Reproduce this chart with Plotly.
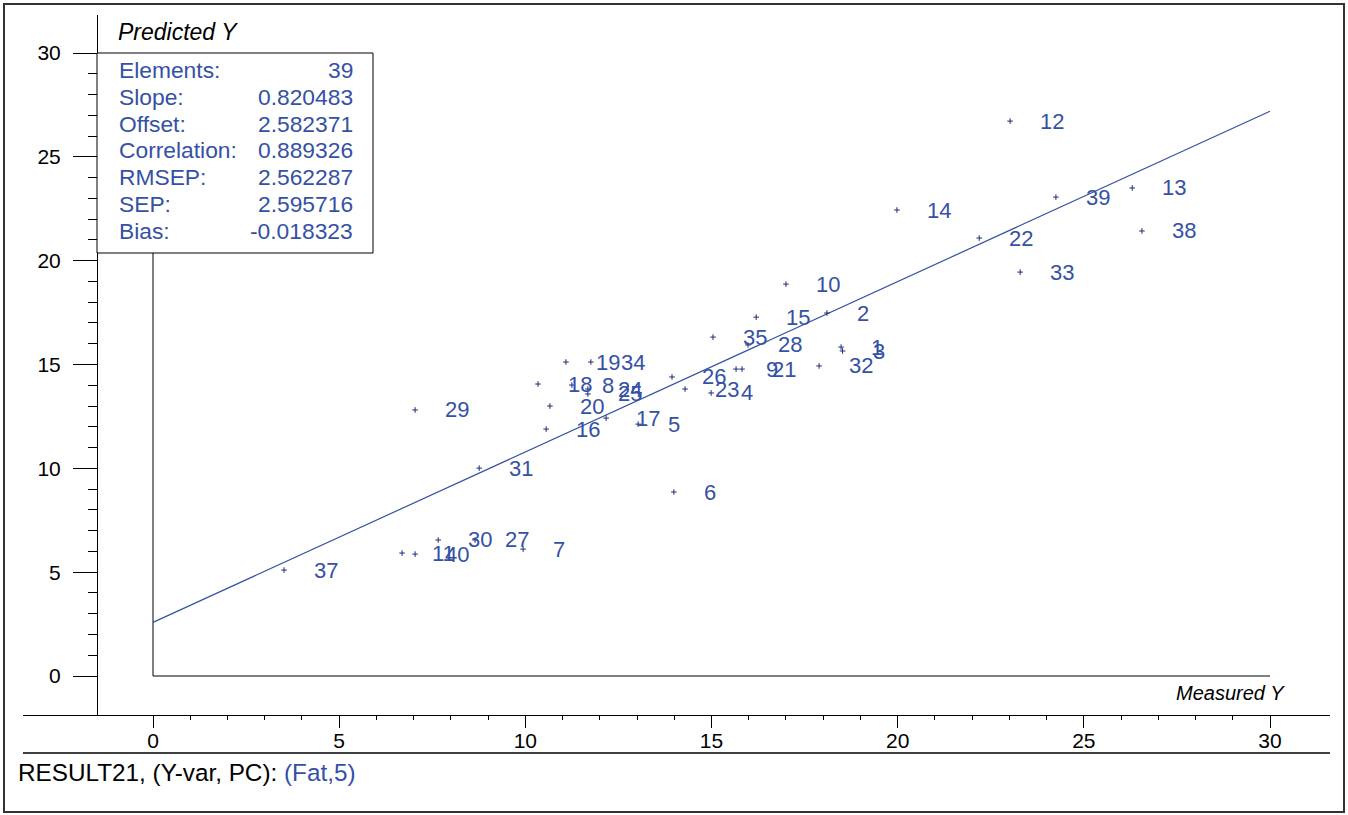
import plotly.graph_objects as go

# ---------------- data ----------------
sample_ids = [1, 2, 3, 4, 5, 6, 7, 8, 9, 10, 11, 12, 13, 14, 15, 16, 17, 18, 19, 20,
              21, 22, 23, 24, 25, 26, 27, 28, 29, 30, 31, 32, 33, 34, 35, 37, 38, 39, 40]
measured_y = [18.48, 18.10, 18.52, 14.99, 13.03, 13.99, 9.94, 11.25, 15.66, 17.00,
              6.69, 23.02, 26.30, 19.98, 16.20, 10.56, 12.17, 10.34, 11.09, 10.66,
              15.82, 22.19, 14.29, 11.68, 11.68, 13.94, 8.65, 15.98, 7.04, 7.66,
              8.76, 17.89, 23.29, 11.76, 15.04, 3.52, 26.56, 24.25, 7.04]
predicted_y = [15.84, 17.48, 15.65, 13.63, 12.13, 8.86, 6.11, 14.01, 14.78, 18.87,
               5.92, 26.72, 23.50, 22.44, 17.28, 11.89, 12.42, 14.06, 15.12, 13.00,
               14.78, 21.09, 13.82, 13.82, 13.58, 14.40, 6.55, 15.94, 12.81, 6.55,
               10.01, 14.93, 19.45, 15.12, 16.32, 5.10, 21.43, 23.06, 5.87]

stat_names = ["Elements:", "Slope:", "Offset:", "Correlation:", "RMSEP:", "SEP:", "Bias:"]
stat_values = ["39", "0.820483", "2.582371", "0.889326", "2.562287", "2.595716", "-0.018323"]
SLOPE = 0.820483
OFFSET = 2.582371

major_ticks = [0, 5, 10, 15, 20, 25, 30]
minor_ticks = [v for v in range(0, 31) if v % 5 != 0]
FRAME_MIN, FRAME_MAX = 0, 30

# ---------------- styling / geometry ----------------
W, H = 1348, 815
ML, MR, MT, MB = 23, 18, 15, 100
PW, PH = W - ML - MR, H - MT - MB
BLUE = "#3451a6"
DOT = "#1c2c7c"
FONT = "Arial, Liberation Sans, sans-serif"


def px(xp):
    return (xp - ML) / PW


def py(yp):
    return (H - MB - yp) / PH


fig = go.Figure()

# inner L frame
fig.add_trace(go.Scatter(x=[FRAME_MIN, FRAME_MIN, FRAME_MAX], y=[FRAME_MAX, FRAME_MIN, FRAME_MIN],
                         mode="lines", line=dict(color="black", width=1),
                         hoverinfo="skip", showlegend=False))

# regression line
fx = [FRAME_MIN, FRAME_MAX]
fig.add_trace(go.Scatter(x=fx, y=[SLOPE * v + OFFSET for v in fx], mode="lines",
                         line=dict(color=BLUE, width=1.2), hoverinfo="skip", showlegend=False))

# points
fig.add_trace(go.Scatter(x=measured_y, y=predicted_y, mode="markers",
                         marker=dict(symbol="cross-thin", size=4,
                                     line=dict(color=DOT, width=1), color=DOT),
                         showlegend=False))

annotations = []
for sid, mx, my in zip(sample_ids, measured_y, predicted_y):
    annotations.append(dict(x=mx, y=my, xref="x", yref="y", text=str(sid), showarrow=False,
                            xanchor="left", yanchor="middle", xshift=28,
                            font=dict(family=FONT, size=22, color=BLUE)))

# stats box
shapes = [
    dict(type="rect", xref="paper", yref="paper", x0=px(97), x1=px(373), y0=py(253), y1=py(53),
         line=dict(color="black", width=1), fillcolor="white", layer="above"),
    # caption separator
    dict(type="line", xref="paper", yref="paper", x0=0, x1=1, y0=py(753), y1=py(753),
         line=dict(color="black", width=1.5)),
    # outer frame
    dict(type="rect", xref="paper", yref="paper", x0=px(4), x1=px(1344), y0=py(812), y1=py(4),
         line=dict(color="#333333", width=2)),
]

row_y0, row_dy = 70, 26.8
for i, (nm, val) in enumerate(zip(stat_names, stat_values)):
    yy = py(row_y0 + i * row_dy)
    annotations.append(dict(x=px(117), y=yy, xref="paper", yref="paper", text=nm, showarrow=False,
                            xanchor="left", yanchor="middle",
                            font=dict(family=FONT, size=22.8, color=BLUE)))
    annotations.append(dict(x=px(355), y=yy, xref="paper", yref="paper", text=val, showarrow=False,
                            xanchor="right", yanchor="middle",
                            font=dict(family=FONT, size=22.8, color=BLUE)))

annotations.append(dict(x=px(116), y=py(32), xref="paper", yref="paper", text="<i>Predicted Y</i>",
                        showarrow=False, xanchor="left", yanchor="middle",
                        font=dict(family=FONT, size=23, color="black")))
annotations.append(dict(x=px(1287), y=py(693), xref="paper", yref="paper", text="<i>Measured Y</i>",
                        showarrow=False, xanchor="right", yanchor="middle",
                        font=dict(family=FONT, size=20, color="black")))
annotations.append(dict(x=px(16), y=py(773), xref="paper", yref="paper",
                        text="RESULT21, (Y-var, PC): <span style='color:%s'>(Fat,5)</span>" % BLUE,
                        showarrow=False, xanchor="left", yanchor="middle",
                        font=dict(family=FONT, size=24.3, color="black")))

x_lo = FRAME_MIN - (153 - ML) / (1270 - 153) * (FRAME_MAX - FRAME_MIN)
x_hi = x_lo + PW / (1270 - 153) * (FRAME_MAX - FRAME_MIN)
ppu_y = (676 - 53) / (FRAME_MAX - FRAME_MIN)
y_lo = FRAME_MIN - (H - MB - 676) / ppu_y
y_hi = y_lo + PH / ppu_y

fig.update_layout(
    width=W, height=H, autosize=False,
    margin=dict(l=ML, r=MR, t=MT, b=MB, pad=0),
    paper_bgcolor="white", plot_bgcolor="white",
    showlegend=False,
    shapes=shapes, annotations=annotations,
    font=dict(family=FONT, color="black"),
    xaxis=dict(range=[x_lo, x_hi], showgrid=False, zeroline=False, showline=True,
               linecolor="black", linewidth=1, ticks="outside", ticklen=12, tickwidth=1,
               tickcolor="black", tickmode="array", tickvals=major_ticks,
               ticklabelstandoff=-5,
               tickfont=dict(family=FONT, size=21, color="black"),
               minor=dict(ticks="outside", ticklen=4, tickcolor="black", tickwidth=1,
                          tickmode="array", tickvals=minor_ticks, showgrid=False)),
    yaxis=dict(range=[y_lo, y_hi], showgrid=False, zeroline=False, showline=True,
               anchor="free", position=px(97),
               linecolor="black", linewidth=1, ticks="outside", ticklen=24, tickwidth=1,
               tickcolor="black", tickmode="array", tickvals=major_ticks,
               ticklabelstandoff=8,
               tickfont=dict(family=FONT, size=21, color="black"),
               minor=dict(ticks="outside", ticklen=9, tickcolor="black", tickwidth=1,
                          tickmode="array", tickvals=minor_ticks, showgrid=False)),
)

fig.write_html("out.html", config={"displayModeBar": False},
               post_script="document.body.style.margin='0';document.body.style.overflow='hidden';")
